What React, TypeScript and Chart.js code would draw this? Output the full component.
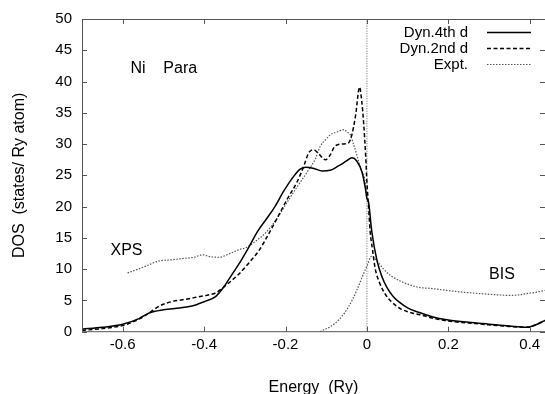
import { useEffect, useRef } from 'react';
import { Chart, registerables } from 'chart.js';

Chart.register(...registerables);

// ---- data ----
const energy4th = [-0.70, -0.65, -0.60, -0.56, -0.535, -0.50, -0.46, -0.43, -0.40, -0.372, -0.35, -0.331, -0.31, -0.291, -0.269, -0.246, -0.226, -0.206, -0.185, -0.164, -0.15, -0.13, -0.11, -0.09, -0.07, -0.05, -0.037, -0.025, -0.012, -0.004, 0.0, 0.004, 0.012, 0.025, 0.037, 0.049, 0.065, 0.082, 0.10, 0.127, 0.16, 0.196, 0.25, 0.30, 0.35, 0.393, 0.415, 0.437];
const dos4th = [0.4, 0.7, 1.2, 2.1, 3.0, 3.5, 3.8, 4.1, 4.8, 5.6, 7.3, 9.2, 11.3, 13.4, 16.0, 18.1, 20.0, 22.3, 24.4, 26.0, 26.3, 26.1, 25.7, 25.8, 26.5, 27.3, 27.8, 27.3, 25.5, 23.0, 21.3, 20.7, 16.0, 11.3, 8.8, 7.1, 5.6, 4.6, 3.8, 3.1, 2.4, 1.9, 1.5, 1.2, 0.9, 0.7, 1.1, 1.8];

const energy2nd = [-0.70, -0.65, -0.60, -0.56, -0.535, -0.51, -0.48, -0.453, -0.42, -0.388, -0.372, -0.345, -0.315, -0.29, -0.266, -0.245, -0.221, -0.195, -0.172, -0.155, -0.143, -0.131, -0.118, -0.102, -0.09, -0.078, -0.06, -0.045, -0.037, -0.028, -0.018, -0.013, -0.008, -0.003, 0.0, 0.004, 0.008, 0.014, 0.02, 0.03, 0.045, 0.06, 0.082, 0.10, 0.131, 0.16, 0.20, 0.25, 0.30, 0.35, 0.393, 0.415, 0.437];
const dos2nd = [0.2, 0.5, 1.0, 2.0, 3.0, 4.1, 4.8, 5.1, 5.5, 5.9, 6.2, 7.5, 9.2, 11.0, 12.9, 15.2, 18.1, 21.3, 23.9, 26.5, 28.6, 29.1, 28.4, 27.5, 28.3, 29.7, 30.0, 30.2, 31.5, 34.5, 39.1, 37.0, 33.3, 28.0, 23.9, 20.0, 16.0, 13.0, 10.2, 8.0, 6.0, 4.8, 3.7, 3.2, 2.7, 2.2, 1.7, 1.4, 1.1, 0.85, 0.7, 1.1, 1.8];

const energyXps = [-0.588, -0.55, -0.511, -0.48, -0.453, -0.425, -0.404, -0.385, -0.363, -0.34, -0.315, -0.295, -0.275, -0.246, -0.22, -0.196, -0.17, -0.147, -0.127, -0.115, -0.10, -0.09, -0.075, -0.056, -0.048, -0.041, -0.033, -0.025, -0.015, -0.004, 0.0];
const dosXps = [9.4, 10.3, 11.3, 11.5, 11.7, 11.9, 12.3, 12.0, 11.9, 12.4, 13.1, 13.5, 14.4, 16.0, 18.2, 20.7, 23.3, 25.5, 27.6, 29.6, 30.8, 31.5, 31.9, 32.3, 31.9, 31.5, 30.0, 28.3, 26.0, 23.9, 21.0];

const energyBis = [-0.115, -0.106, -0.09, -0.066, -0.045, -0.025, -0.01, 0.0, 0.012, 0.025, 0.041, 0.06, 0.082, 0.10, 0.127, 0.16, 0.196, 0.24, 0.277, 0.32, 0.352, 0.375, 0.393, 0.415, 0.437];
const dosBis = [0.0, 0.3, 0.8, 2.1, 4.0, 6.6, 9.0, 10.5, 12.1, 11.3, 10.0, 8.9, 8.1, 7.6, 7.1, 6.9, 6.6, 6.3, 6.1, 5.9, 5.8, 5.9, 6.1, 6.3, 6.6];

const fermiLineEnergy = [0, 0];
const fermiLineDos = [0, 50];

const seriesLabels = ['Dyn.4th d', 'Dyn.2nd d', 'Expt.'];

const xTickValues = [-0.6, -0.4, -0.2, 0, 0.2, 0.4];
const xTickLabels = ['-0.6', '-0.4', '-0.2', '0', '0.2', '0.4'];
const yTickValues = [0, 5, 10, 15, 20, 25, 30, 35, 40, 45, 50];
const yTickLabels = ['0', '5', '10', '15', '20', '25', '30', '35', '40', '45', '50'];

const annotationTexts = ['Ni    Para', 'XPS', 'BIS'];
const annotationEnergy = [-0.581, -0.63, 0.300];
const annotationDos = [42.0, 13.0, 9.2];

const FONT = "'Liberation Sans', Arial, Helvetica, sans-serif";

function pts(xs: number[], ys: number[]) {
  return xs.map((x, i) => ({ x, y: ys[i] }));
}

const framePlugin = {
  id: 'gnuFrame',
  afterDraw(chart: any) {
    const { ctx, chartArea } = chart;
    const xs = chart.scales.x;
    const ys = chart.scales.y;
    const { left, right, top, bottom } = chartArea;
    ctx.save();
    ctx.strokeStyle = '#555';
    ctx.lineWidth = 1;
    ctx.setLineDash([]);
    ctx.beginPath();
    ctx.moveTo(right, top + 0.5);
    ctx.lineTo(left + 0.5, top + 0.5);
    ctx.lineTo(left + 0.5, bottom);
    ctx.lineTo(right, bottom);
    ctx.stroke();
    const tl = 5;
    ctx.beginPath();
    xTickValues.forEach((v) => {
      const px = Math.round(xs.getPixelForValue(v)) + 0.5;
      ctx.moveTo(px, bottom);
      ctx.lineTo(px, bottom - tl);
      ctx.moveTo(px, top);
      ctx.lineTo(px, top + tl);
    });
    yTickValues.forEach((v) => {
      const py = Math.round(ys.getPixelForValue(v)) + 0.5;
      ctx.moveTo(left, py);
      ctx.lineTo(left + tl, py);
      ctx.moveTo(right, py);
      ctx.lineTo(right - tl, py);
    });
    ctx.stroke();

    // annotations
    ctx.fillStyle = '#000';
    ctx.font = `16px ${FONT}`;
    ctx.textAlign = 'left';
    ctx.textBaseline = 'middle';
    annotationTexts.forEach((t, i) => {
      ctx.fillText(t, xs.getPixelForValue(annotationEnergy[i]), ys.getPixelForValue(annotationDos[i]));
    });

    // legend
    ctx.font = `15px ${FONT}`;
    ctx.textAlign = 'right';
    chart.data.datasets.forEach((ds: any, i: number) => {
      if (!ds.showInKey) return;
      const y = top + 13 + i * 16;
      ctx.fillStyle = '#000';
      ctx.fillText(ds.label, right - 77, y + 1);
      ctx.strokeStyle = ds.borderColor;
      ctx.lineWidth = ds.borderWidth;
      ctx.setLineDash(ds.borderDash || []);
      ctx.beginPath();
      ctx.moveTo(right - 58, y + 0.5);
      ctx.lineTo(right - 14, y + 0.5);
      ctx.stroke();
    });
    ctx.restore();
  },
};

export default function App() {
  const ref = useRef<HTMLCanvasElement>(null);
  useEffect(() => {
    document.body.style.margin = '0';
    Chart.defaults.font.family = FONT;
    Chart.defaults.font.size = 15;
    Chart.defaults.color = '#000';
    const expt = [...pts(energyXps, dosXps), { x: 0, y: null as any }, ...pts(energyBis, dosBis)];
    const chart = new Chart(ref.current!, {
      type: 'line',
      data: {
        datasets: [
          {
            label: seriesLabels[0],
            data: pts(energy4th, dos4th),
            borderColor: '#000',
            borderWidth: 1.5,
            pointRadius: 0,
            cubicInterpolationMode: 'monotone',
            showInKey: true,
          } as any,
          {
            label: seriesLabels[1],
            data: pts(energy2nd, dos2nd),
            borderColor: '#000',
            borderWidth: 1.5,
            borderDash: [4, 2.5],
            pointRadius: 0,
            cubicInterpolationMode: 'monotone',
            showInKey: true,
          } as any,
          {
            label: seriesLabels[2],
            data: expt,
            borderColor: '#555',
            borderWidth: 1.2,
            borderDash: [1.5, 1.5],
            pointRadius: 0,
            spanGaps: false,
            cubicInterpolationMode: 'monotone',
            showInKey: true,
          } as any,
          {
            label: 'E_F',
            data: pts(fermiLineEnergy, fermiLineDos),
            borderColor: '#666',
            borderWidth: 1,
            borderDash: [1, 1.5],
            pointRadius: 0,
            showInKey: false,
          } as any,
        ],
      },
      options: {
        animation: false,
        responsive: false,
        layout: { padding: { left: 0, top: 14, right: 0, bottom: 0 } },
        plugins: { legend: { display: false }, tooltip: { enabled: false } },
        scales: {
          x: {
            type: 'linear',
            min: -0.7,
            max: 0.4375,
            grid: { display: false, drawTicks: false },
            border: { display: false },
            ticks: {
              padding: 4,
              autoSkip: false,
              maxRotation: 0,
              callback: (v: any) => {
                const i = xTickValues.findIndex((t) => Math.abs(t - v) < 1e-9);
                return i >= 0 ? xTickLabels[i] : '';
              },
            },
            afterBuildTicks: (s: any) => {
              s.ticks = xTickValues.map((value) => ({ value }));
            },
            afterFit: (s: any) => {
              s.height = 62.3;
            },
            title: { display: true, text: 'Energy  (Ry)', font: { size: 16 }, padding: { top: 0, bottom: -3 } },
          },
          y: {
            type: 'linear',
            min: 0,
            max: 50,
            grid: { display: false, drawTicks: false },
            border: { display: false },
            ticks: {
              padding: 10,
              autoSkip: false,
              callback: (v: any) => {
                const i = yTickValues.findIndex((t) => Math.abs(t - v) < 1e-9);
                return i >= 0 ? yTickLabels[i] : '';
              },
            },
            afterBuildTicks: (s: any) => {
              s.ticks = yTickValues.map((value) => ({ value }));
            },
            afterFit: (s: any) => {
              s.width = 82;
            },
            title: { display: true, text: 'DOS  (states/ Ry atom)', font: { size: 16 }, padding: { top: 10, bottom: 0 } },
          },
        },
      },
      plugins: [framePlugin],
    });
    return () => chart.destroy();
  }, []);
  return <canvas ref={ref} width={545} height={394} />;
}
